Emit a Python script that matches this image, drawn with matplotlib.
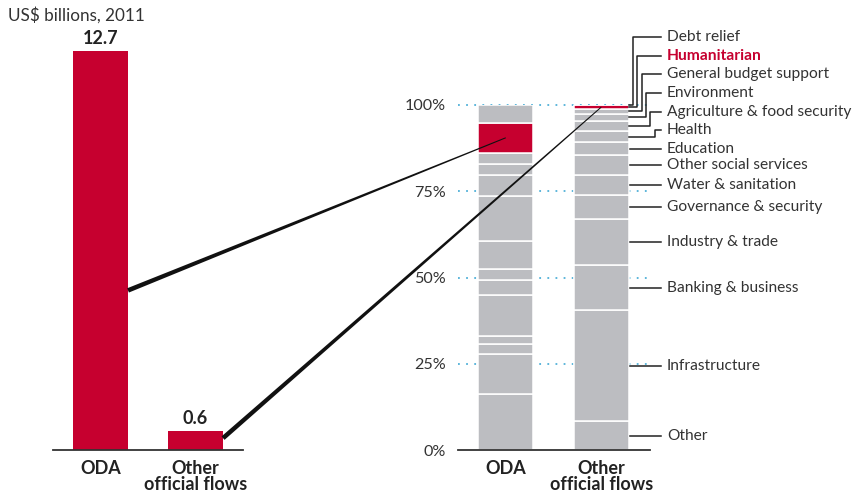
import matplotlib.pyplot as plt
from matplotlib.patches import Polygon
import numpy as np

plt.rcParams['font.family'] = ['Lato', 'DejaVu Sans']

# data
flows = ['ODA', 'Other\nofficial flows']
totals = [12.7, 0.6]          # US$ billions, 2011

sectors = ['Other', 'Infrastructure', 'Banking & business', 'Industry & trade',
           'Governance & security', 'Water & sanitation', 'Other social services',
           'Education', 'Health', 'Agriculture & food security', 'Environment',
           'General budget support', 'Humanitarian', 'Debt relief']
oda_share = [16.2, 11.6, 2.9, 2.3, 11.9, 4.4, 3.2, 8.1, 12.9, 6.2, 3.2, 3.3, 8.6, 5.2]
oof_share = [8.3, 32.2, 13.0, 13.5, 6.8, 5.8, 5.8, 3.8, 3.2, 3.0, 2.1, 1.4, 1.0, 0.1]
pct_ticks = [0, 25, 50, 75, 100]

red = '#c6002f'
grey = '#bcbdc1'
txt = '#333333'
W, H = 855, 497
fs = 11.2

fig = plt.figure(figsize=(W / 100, H / 100), dpi=100)

# ---- left: totals
ax1 = fig.add_axes([53 / W, 47 / H, 190 / W, 399 / H])
x = np.arange(len(flows))
ax1.bar(x, totals, width=0.58, color=red)
ax1.set_xlim(-0.5, 1.5)
ax1.set_ylim(0, 12.7)
for s in ['left', 'right', 'top']:
    ax1.spines[s].set_visible(False)
ax1.spines['bottom'].set_color(txt)
ax1.spines['bottom'].set_linewidth(1.3)
ax1.set_yticks([])
ax1.set_xticks(x)
ax1.set_xticklabels(flows, fontsize=13, fontweight='bold', color='#222222',
                    linespacing=0.95)
ax1.tick_params(axis='x', length=0, pad=7)
for xi, v in zip(x, totals):
    ax1.annotate(f'{v}', (xi, v), xytext=(0, 3), textcoords='offset points',
                 ha='center', va='bottom', fontsize=13, fontweight='bold',
                 color='#222222', annotation_clip=False)
fig.text(8 / W, 1 - 15 / H, 'US$ billions, 2011', fontsize=12.3, color=txt,
         ha='left', va='center')

# ---- right: sector shares
ax2 = fig.add_axes([458 / W, 47 / H, 192 / W, 345 / H])
ax2.set_xlim(-0.5, 1.51)
ax2.set_ylim(0, 100)
colors = [red if s == 'Humanitarian' else grey for s in sectors]
for xi, shares in zip(x, [oda_share, oof_share]):
    bottoms = np.concatenate([[0], np.cumsum(shares)[:-1]])
    ax2.bar([xi] * len(shares), shares, bottom=bottoms, width=0.575,
            color=colors, edgecolor='white', linewidth=1.1, zorder=2)
ax2.hlines(pct_ticks[1:], -0.5, 1.51, colors='#4fb0d8', linestyles=(0, (1, 3.5)),
           linewidth=1.3, zorder=1, clip_on=False)
for s in ['left', 'right', 'top']:
    ax2.spines[s].set_visible(False)
ax2.spines['bottom'].set_color(txt)
ax2.spines['bottom'].set_linewidth(1.3)
ax2.set_yticks(pct_ticks)
ax2.set_yticklabels([f'{p}%' for p in pct_ticks], fontsize=11.6, color=txt)
ax2.tick_params(axis='y', length=0, pad=9)
ax2.set_xticks(x)
ax2.set_xticklabels(flows, fontsize=13, fontweight='bold', color='#222222',
                    linespacing=0.95)
ax2.tick_params(axis='x', length=0, pad=7)

# leader lines and labels for the Other official flows bar
oof_cum = np.cumsum(oof_share)
oof_mid = oof_cum - np.array(oof_share) / 2
x0, x_end, x_txt = 1.30, 1.623, 1.686
n_low = 8
for i, name in enumerate(sectors):
    is_hum = name == 'Humanitarian'
    kw = dict(color='#222222', lw=1.1, clip_on=False)
    if i < n_low:
        ly = oof_mid[i]
        ax2.plot([x0, x_end], [ly, ly], **kw)
    else:
        k = len(sectors) - 1 - i
        ly = 119.7 - 5.4 * k
        vx = 1.33 + 0.046 * k
        ty = min(oof_mid[i], 99.9)
        ax2.plot([1.288, vx, vx, x_end], [ty, ty, ly, ly], **kw)
    ax2.text(x_txt, ly, name, fontsize=fs, va='center', ha='left',
             color=red if is_hum else txt,
             fontweight='bold' if is_hum else 'normal', clip_on=False)

# tapered links from totals to humanitarian segments
oda_cum = np.cumsum(oda_share)
hum = sectors.index('Humanitarian')
hum_mid = [oda_cum[hum] - oda_share[hum] / 2, oof_mid[hum]]
link_from = [0.40, 0.63]
inv = fig.transFigure.inverted()
for i in range(2):
    p0 = ax1.transData.transform((x[i] + 0.29, totals[i] * link_from[i]))
    p1 = ax2.transData.transform((x[i], hum_mid[i]))
    d = p1 - p0
    n = np.array([-d[1], d[0]]) / np.hypot(*d)
    w0, w1 = 2.3, 0.5
    pts = np.array([p0 + n * w0, p1 + n * w1, p1 - n * w1, p0 - n * w0])
    fig.add_artist(Polygon(inv.transform(pts), closed=True, color='#111111',
                           lw=0, transform=fig.transFigure, zorder=5))

fig.savefig('out.png', dpi=100)
